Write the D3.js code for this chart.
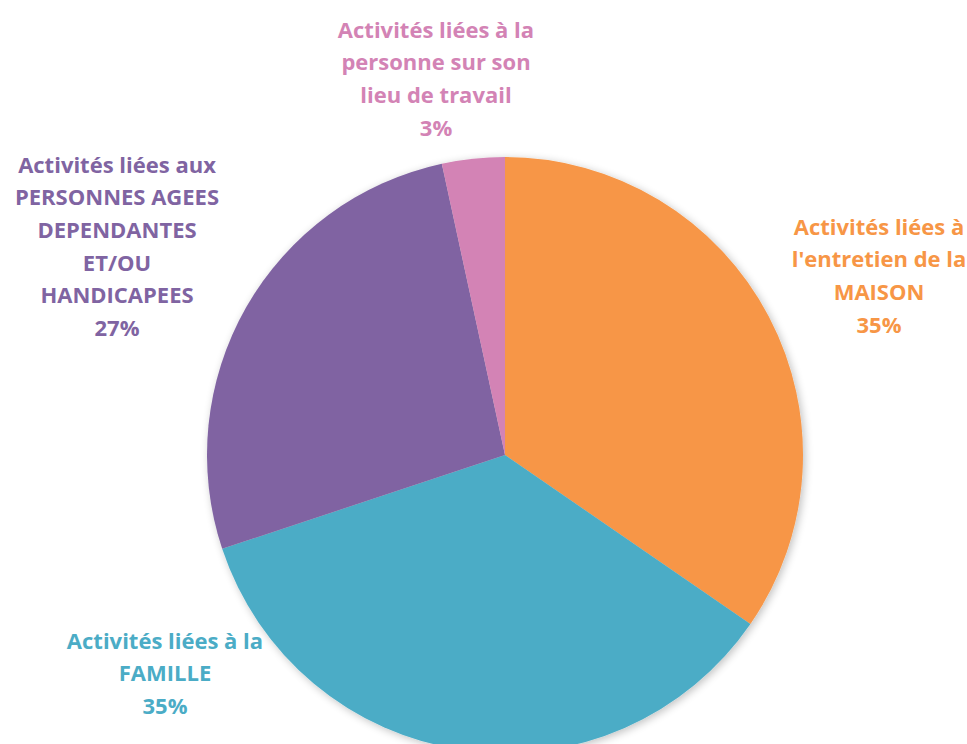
<!DOCTYPE html>
<html><head><meta charset="utf-8">
<script src="https://cdn.jsdelivr.net/npm/d3@7"></script>
<style>body{margin:0;background:#fff}svg{display:block}</style>
</head><body>
<script>
const categories = ["Activités liées à l'entretien de la MAISON","Activités liées à la FAMILLE","Activités liées aux PERSONNES AGEES DEPENDANTES ET/OU HANDICAPEES","Activités liées à la personne sur son lieu de travail"];
const values = [34.6, 35.3, 26.7, 3.4];
const percentLabels = ["35%","35%","27%","3%"];
const labelLines = [
  ["Activités liées à","l'entretien de la","MAISON"],
  ["Activités liées à la","FAMILLE"],
  ["Activités liées aux","PERSONNES AGEES","DEPENDANTES","ET/OU","HANDICAPEES"],
  ["Activités liées à la","personne sur son","lieu de travail"]
];
const colors = ["#F79646","#4BACC6","#8064A2","#D383B5"];
const labelPos = [[879,227],[165,641],[117,165],[436,30]];

const W=967,H=744,cx=505,cy=455,R=298;
const svg=d3.select("body").append("svg").attr("width",W).attr("height",H);
const defs=svg.append("defs");
const f=defs.append("filter").attr("id","sh").attr("x","-10%").attr("y","-10%").attr("width","120%").attr("height","120%");
f.append("feGaussianBlur").attr("in","SourceAlpha").attr("stdDeviation",4).attr("result","b");
f.append("feOffset").attr("in","b").attr("dx",2).attr("dy",2).attr("result","o");
f.append("feComponentTransfer").attr("in","o").attr("result","o2").append("feFuncA").attr("type","linear").attr("slope",0.25);
const m=f.append("feMerge");m.append("feMergeNode").attr("in","o2");m.append("feMergeNode").attr("in","SourceGraphic");

const pie=d3.pie().sort(null).value(d=>d);
const arc=d3.arc().innerRadius(0).outerRadius(R);
const g=svg.append("g").attr("transform",`translate(${cx},${cy})`).attr("filter","url(#sh)");
g.selectAll("path").data(pie(values)).join("path").attr("d",arc).attr("fill",(d,i)=>colors[i]);

labelLines.forEach((lines,i)=>{
  const all=lines.concat([percentLabels[i]]);
  const t=svg.append("text").attr("text-anchor","middle").attr("fill",colors[i])
    .style("font-family","'Open Sans', Lato, sans-serif").style("font-weight","bold").style("font-size","22px");
  all.forEach((s,k)=>{
    t.append("tspan").attr("x",labelPos[i][0]).attr("y",labelPos[i][1]+k*32.6).attr("dy","0.35em").text(s);
  });
});
</script>
</body></html>
